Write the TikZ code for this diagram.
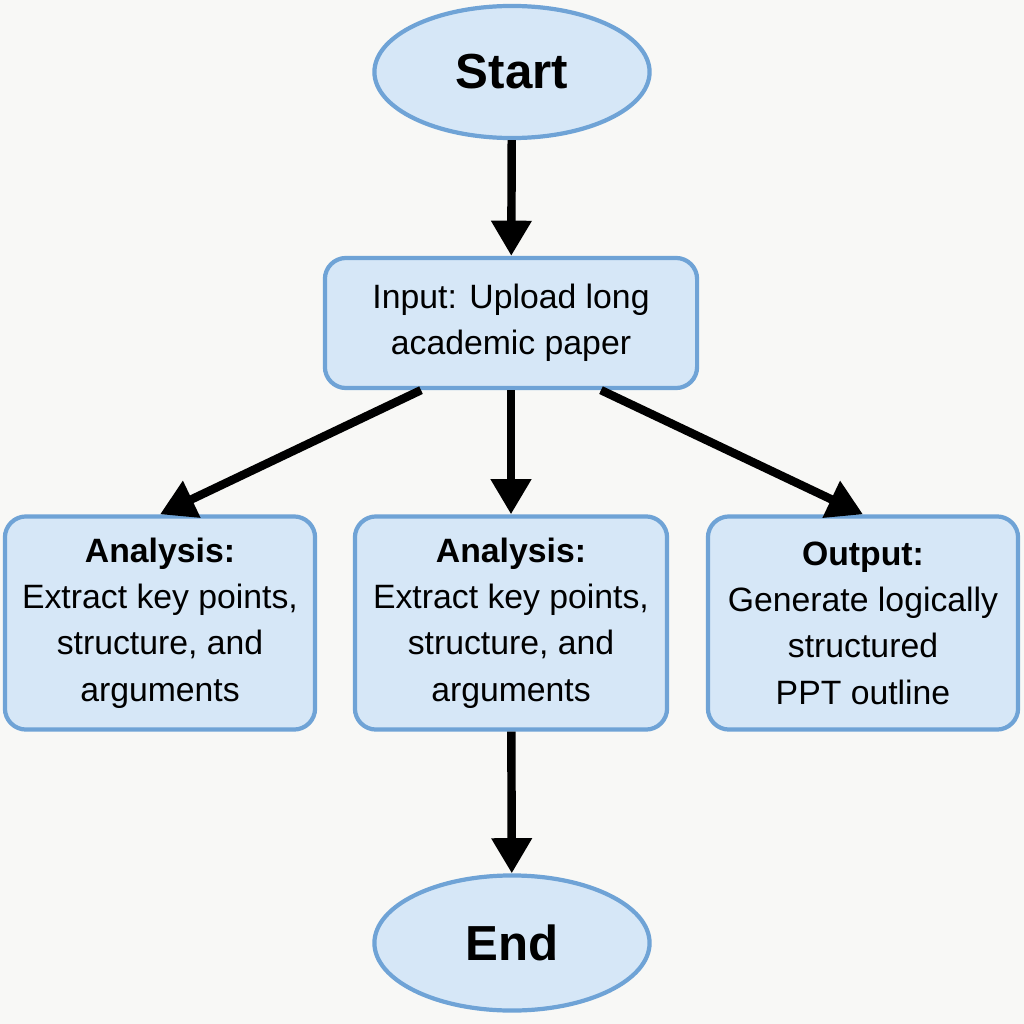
\documentclass[tikz,border=0pt]{standalone}
\usepackage{fontspec}
\setmainfont{Liberation Sans}
\usetikzlibrary{arrows.meta,shapes.geometric}

\definecolor{boxfill}{HTML}{D6E7F7}
\definecolor{boxline}{HTML}{6FA3D6}
\definecolor{paper}{HTML}{F8F8F6}

\tikzset{
    terminal/.style={ellipse, draw=boxline, fill=boxfill, line width=1.2pt,
        minimum width=2.75cm, minimum height=1.32cm,
        font=\fontsize{14}{16}\selectfont\bfseries},
    process/.style={rectangle, rounded corners=6pt, draw=boxline, fill=boxfill,
        line width=1.2pt, align=center,
        font=\fontsize{9.6}{13.2}\selectfont},
    flow/.style={line width=2.4pt, -{Triangle[length=10pt,width=11pt]}}
}

\begin{document}
\begin{tikzpicture}[x=0.01cm, y=-0.01cm]

    % page
    \fill[paper] (0,0) rectangle (1024,1024);
    \useasboundingbox (0,0) rectangle (1024,1024);

    % ends
    \node[terminal] (start) at (512,72) {Start};
    \node[terminal, minimum height=1.35cm] (end) at (512,943) {End};

    % input
    \node[process, minimum width=3.72cm, minimum height=1.3cm] (input) at (511,323)
        {Input: Upload long\\academic paper};

    % analysis and output
    \node[process, minimum width=3.1cm, minimum height=2.13cm] (analysis_a) at (160,623)
        {\textbf{Analysis:}\\Extract key points,\\structure, and\\arguments};
    \node[process, minimum width=3.12cm, minimum height=2.13cm] (analysis_b) at (511,623)
        {\textbf{Analysis:}\\Extract key points,\\structure, and\\arguments};
    \node[process, minimum width=3.1cm, minimum height=2.13cm] (output) at (863,623)
        {\textbf{Output:}\\Generate logically\\structured\\PPT outline};

    % arrows
    \draw[flow] (start) -- (input);
    \draw[flow] (input.south) ++(-90,0) coordinate (in_l) -- (analysis_a.north);
    \draw[flow] (input) -- (analysis_b);
    \draw[flow] (input.south) ++(90,0) coordinate (in_r) -- (output.north);
    \draw[flow] (analysis_b) -- (end);

\end{tikzpicture}
\end{document}
